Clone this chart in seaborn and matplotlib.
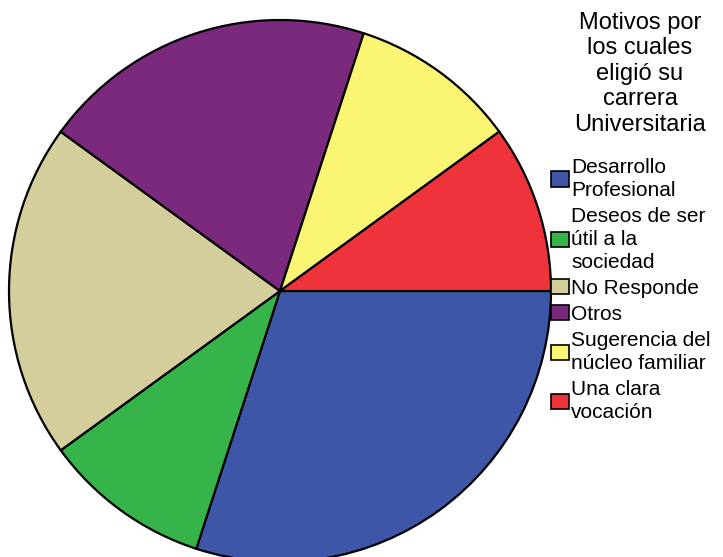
import matplotlib
matplotlib.use("Agg")
import matplotlib.pyplot as plt
import seaborn as sns

categories = ["Desarrollo\nProfesional", "Deseos de ser\nútil a la\nsociedad",
              "No Responde", "Otros", "Sugerencia del\nnúcleo familiar",
              "Una clara\nvocación"]
values = [30, 10, 20, 20, 10, 10]
colors = ["#3D56A8", "#36B44A", "#D3CE9B", "#7B297C", "#FAF673", "#EE343A"]
legend_title = "Motivos por\nlos cuales\neligió su\ncarrera\nUniversitaria"

sns.set_theme(style="white")
plt.rcParams['font.family'] = ['Liberation Sans', 'DejaVu Sans']
plt.rcParams['text.color'] = 'black'

fig = plt.figure(figsize=(7.23, 5.57), dpi=100)
ax = fig.add_axes([9 / 723, -5 / 557, 542 / 723, 542 / 557])
wedges, _ = ax.pie(values, colors=colors, startangle=0, counterclock=False,
                   radius=1.0,
                   wedgeprops=dict(edgecolor='black', linewidth=1.6))
ax.set_xlim(-1.0, 1.0)
ax.set_ylim(-1.0, 1.0)
ax.set_aspect('equal')
ax.axis('off')

fig.text(640 / 723, 1 - 12 / 557, legend_title, ha='center', va='top',
         fontsize=17, linespacing=1.2, color='black')

leg = fig.legend(wedges, categories,
                 loc='upper left', bbox_to_anchor=(551 / 723, 1 - 158 / 557),
                 frameon=False, fontsize=15,
                 handlelength=0.85, handleheight=0.75, handletextpad=0.12,
                 labelspacing=0.35, borderpad=0, borderaxespad=0)
for t in leg.get_texts():
    t.set_linespacing(1.25)
    t.set_color('black')
for h in leg.legend_handles:
    h.set_linewidth(1.2)
    h.set_edgecolor('black')

fig.savefig("out.png", dpi=100)
